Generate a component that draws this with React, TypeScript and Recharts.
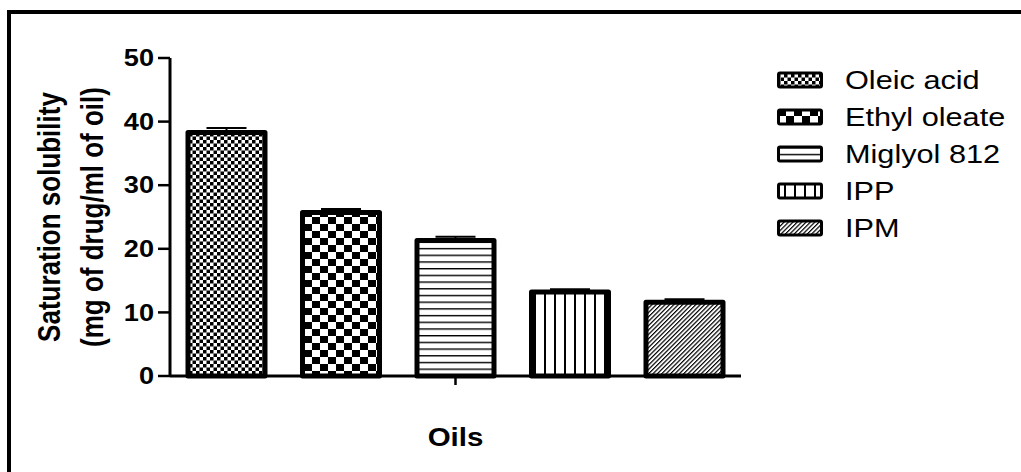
import { BarChart, Bar, XAxis, YAxis, ErrorBar, Legend, Label } from 'recharts'

const category = 'Oils'
const oils = ['Oleic acid', 'Ethyl oleate', 'Miglyol 812', 'IPP', 'IPM']
const seriesKeys = ['oleic', 'ethyl', 'miglyol', 'ipp', 'ipm']
const solubility = [38.3, 25.7, 21.3, 13.2, 11.6]
const sem = [0.7, 0.55, 0.6, 0.45, 0.45]
const patternIds = ['fineCheck', 'coarseCheck', 'hLines', 'vLines', 'diagLines']
const yTicks = [0, 10, 20, 30, 40, 50]
const yTitleLines = ['Saturation solubility', '(mg of drug/ml of oil)']

const FONT = '"Liberation Sans", Arial, sans-serif'
// text in this figure is set a little wide
const STRETCH = 1.18

const row: Record<string, string | number | number[]> = { name: category }
seriesKeys.forEach((key, i) => {
  row[key] = solubility[i]
  // error drawn upward only
  row[key + 'Err'] = [0, sem[i]]
})
const data = [row]

function YTick({ x, y, payload }: any) {
  return (
    <text
      transform={`translate(${x},${y}) scale(${STRETCH},1)`}
      textAnchor="end"
      dy="0.355em"
      fontFamily={FONT}
      fontWeight="bold"
      fontSize={23}
      fill="#000"
    >
      {payload.value}
    </text>
  )
}

function XTick({ x, y, payload }: any) {
  return (
    <text
      transform={`translate(${x},${y + 59}) scale(${STRETCH},1)`}
      textAnchor="middle"
      fontFamily={FONT}
      fontWeight="bold"
      fontSize={25}
      fill="#000"
    >
      {payload.value}
    </text>
  )
}

function YTitle({ viewBox }: any) {
  const cy = viewBox.y + viewBox.height / 2
  return (
    <g fontFamily={FONT} fontWeight="bold" fontSize={26} fill="#000">
      {yTitleLines.map((line, i) => (
        <text
          key={line}
          transform={`translate(${viewBox.x + 60 + i * 43},${cy}) rotate(-90) scale(1,${STRETCH})`}
          textAnchor="middle"
        >
          {line}
        </text>
      ))}
    </g>
  )
}

function OilLegend() {
  return (
    <svg width={250} height={190} style={{ display: 'block', overflow: 'visible' }}>
      {oils.map((name, i) => {
        const cy = 20 + i * 37
        return (
          <g key={name}>
            <rect
              x={8.5}
              y={cy - 7}
              width={43}
              height={14}
              rx={1.5}
              fill={`url(#${patternIds[i]})`}
              stroke="#000"
              strokeWidth={3}
            />
            <text
              transform={`translate(75,${cy + 9}) scale(${STRETCH},1)`}
              fontFamily={FONT}
              fontSize={26}
              fill="#000"
            >
              {name}
            </text>
          </g>
        )
      })}
    </svg>
  )
}

export default function App() {
  return (
    <div style={{ position: 'absolute', left: 0, top: 0, width: 1021, height: 472, background: '#fff' }}>
      <BarChart
        width={1021}
        height={472}
        data={data}
        margin={{ top: 58, right: 280, bottom: 36, left: 0 }}
        barSize={77}
        barGap={37.5}
      >
        <defs>
          <pattern id="fineCheck" width={7} height={7} patternUnits="userSpaceOnUse">
            <rect width={7} height={7} fill="#fff" />
            <rect width={3.5} height={3.5} fill="#000" />
            <rect x={3.5} y={3.5} width={3.5} height={3.5} fill="#000" />
          </pattern>
          <pattern id="coarseCheck" width={16} height={14} patternUnits="userSpaceOnUse">
            <rect width={16} height={14} fill="#fff" />
            <rect width={8} height={7} fill="#000" />
            <rect x={8} y={7} width={8} height={7} fill="#000" />
          </pattern>
          <pattern id="hLines" width={8} height={6.7} patternUnits="userSpaceOnUse">
            <rect width={8} height={6.7} fill="#fff" />
            <rect width={8} height={1.4} fill="#000" />
          </pattern>
          <pattern id="vLines" width={10} height={10} patternUnits="userSpaceOnUse">
            <rect width={10} height={10} fill="#fff" />
            <rect x={4} width={2} height={10} fill="#000" />
          </pattern>
          <pattern id="diagLines" width={3.1} height={3.1} patternUnits="userSpaceOnUse" patternTransform="rotate(45)">
            <rect width={3.1} height={3.1} fill="#fff" />
            <rect width={1.2} height={3.1} fill="#000" />
          </pattern>
        </defs>
        <XAxis
          dataKey="name"
          height={60}
          axisLine={{ stroke: '#000', strokeWidth: 3 }}
          tickLine={{ stroke: '#000', strokeWidth: 2.5 }}
          tickSize={9}
          tick={<XTick />}
        />
        <YAxis
          type="number"
          width={170}
          domain={[0, 50]}
          ticks={yTicks}
          interval={0}
          axisLine={{ stroke: '#000', strokeWidth: 3 }}
          tickLine={{ stroke: '#000', strokeWidth: 2.5 }}
          tickSize={12}
          tickMargin={4}
          tick={<YTick />}
        >
          <Label content={YTitle} />
        </YAxis>
        <Legend
          content={<OilLegend />}
          layout="vertical"
          align="center"
          verticalAlign="middle"
          wrapperStyle={{ left: 770, top: 60, width: 250 }}
        />
        {seriesKeys.map((key, i) => (
          <Bar
            key={key}
            dataKey={key}
            name={oils[i]}
            fill={`url(#${patternIds[i]})`}
            stroke="#000"
            strokeWidth={5}
            strokeLinejoin="round"
            isAnimationActive={false}
          >
            <ErrorBar dataKey={key + 'Err'} direction="y" width={20} stroke="#000" strokeWidth={2} />
          </Bar>
        ))}
      </BarChart>
      <div
        style={{
          position: 'absolute',
          left: 7,
          top: 10,
          right: 0,
          bottom: 0,
          borderTop: '4px solid #000',
          borderLeft: '4px solid #000',
          pointerEvents: 'none',
        }}
      />
    </div>
  )
}
